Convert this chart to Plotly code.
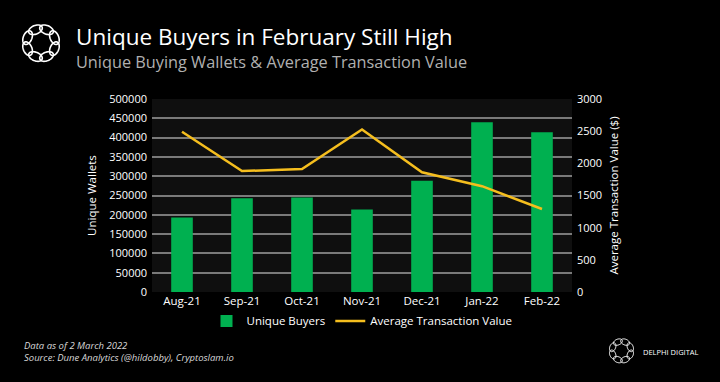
import math
import plotly.graph_objects as go

months = ["Aug-21", "Sep-21", "Oct-21", "Nov-21", "Dec-21", "Jan-22", "Feb-22"]
unique_buyers = [193000, 243000, 245000, 214000, 288000, 440000, 414000]
avg_tx_value = [2490, 1880, 1910, 2525, 1860, 1645, 1290]
left_ticks = list(range(0, 500001, 50000))
right_ticks = list(range(0, 3001, 500))

W, H = 720, 382
L, R, T, B = 152, 148, 98.5, 90
PW, PH = W - L - R, H - T - B

def px(x):
    return (x - L) / PW

def py(y):
    return (H - B - y) / PH

FONT = "Open Sans"
GREEN = "#00B050"
YELLOW = "#F5BE1E"

fig = go.Figure()
fig.add_trace(go.Bar(x=months, y=unique_buyers, name="Unique Buyers",
                     marker=dict(color=GREEN, line=dict(width=0)), yaxis="y"))
fig.add_trace(go.Scatter(x=months, y=avg_tx_value, name="Average Transaction Value",
                         mode="lines", line=dict(color=YELLOW, width=2.5), yaxis="y2"))

shapes = []

def logo(cx, cy, Rr, a_t, b_r, lw):
    for k in range(8):
        th = 2 * math.pi * k / 8 + math.pi / 8
        ex, ey = cx + Rr * math.cos(th), cy + Rr * math.sin(th)
        pts = []
        for i in range(41):
            t = 2 * math.pi * i / 40
            u = a_t * math.cos(t)
            v = b_r * math.sin(t)
            x = ex + u * (-math.sin(th)) + v * math.cos(th)
            y = ey + u * math.cos(th) + v * math.sin(th)
            pts.append((px(x), py(y)))
        d = "M " + " L ".join(f"{a:.5f},{b:.5f}" for a, b in pts) + " Z"
        shapes.append(dict(type="path", xref="paper", yref="paper", path=d,
                           line=dict(color="white", width=lw), fillcolor="rgba(0,0,0,0)"))

logo(41, 42.5, 14.5, 7.2, 4.3, 1.6)
logo(621.5, 351, 9.5, 4.7, 2.9, 1.0)

annotations = [
    dict(text="Unique Buyers in February Still High", x=px(74), y=py(35.5), xref="paper", yref="paper",
         xanchor="left", yanchor="middle", showarrow=False,
         font=dict(family=FONT, size=22.5, color="white")),
    dict(text="Unique Buying Wallets & Average Transaction Value", x=px(74), y=py(61.5), xref="paper", yref="paper",
         xanchor="left", yanchor="middle", showarrow=False,
         font=dict(family=FONT, size=16.3, color="#B0B0B0")),
    dict(text="<i>Data as of 2 March 2022</i>", x=px(22), y=py(346), xref="paper", yref="paper",
         xanchor="left", yanchor="middle", showarrow=False,
         font=dict(family=FONT, size=9.5, color="#D8D8D8")),
    dict(text="<i>Source: Dune Analytics (@hildobby), Cryptoslam.io</i>", x=px(22), y=py(358), xref="paper", yref="paper",
         xanchor="left", yanchor="middle", showarrow=False,
         font=dict(family=FONT, size=9.5, color="#D8D8D8")),
    dict(text="DELPHI DIGITAL", x=px(641), y=py(352), xref="paper", yref="paper",
         xanchor="left", yanchor="middle", showarrow=False,
         font=dict(family=FONT, size=7.5, color="white")),
]

fig.update_layout(
    width=W, height=H,
    margin=dict(l=L, r=R, t=T, b=B),
    paper_bgcolor="black", plot_bgcolor="#0f0f0f",
    font=dict(family=FONT, color="white", size=11.5),
    bargap=0.64,
    showlegend=True,
    legend=dict(orientation="h", x=0.5, xanchor="center", y=py(321), yanchor="middle",
                font=dict(family=FONT, size=11.5, color="white"), bgcolor="rgba(0,0,0,0)",
                itemwidth=30, tracegroupgap=0),
    xaxis=dict(showgrid=False, showline=False, zeroline=False, ticks="",
               tickfont=dict(size=11.5, color="white")),
    yaxis=dict(range=[0, 500000], tickvals=left_ticks, ticktext=[str(v) for v in left_ticks],
               showgrid=True, gridcolor="#7a7a7a", gridwidth=1.5, zeroline=False,
               showline=False, ticks="", ticklabelstandoff=4,
               title=dict(text="Unique Wallets", font=dict(size=11.5, color="white"), standoff=10),
               tickfont=dict(size=11, color="white")),
    yaxis2=dict(range=[0, 3000], tickvals=right_ticks, ticktext=[str(v) for v in right_ticks],
                overlaying="y", side="right", showgrid=False, zeroline=False, showline=False,
                ticks="", ticklabelstandoff=4,
                title=dict(text="Average Transaction Value ($)", font=dict(size=11.5, color="white"), standoff=8),
                tickfont=dict(size=11, color="white")),
    shapes=shapes,
    annotations=annotations,
)

fig.write_html("out.html", config={"displayModeBar": False},
               post_script="document.body.style.margin='0';document.body.style.background='black';")
